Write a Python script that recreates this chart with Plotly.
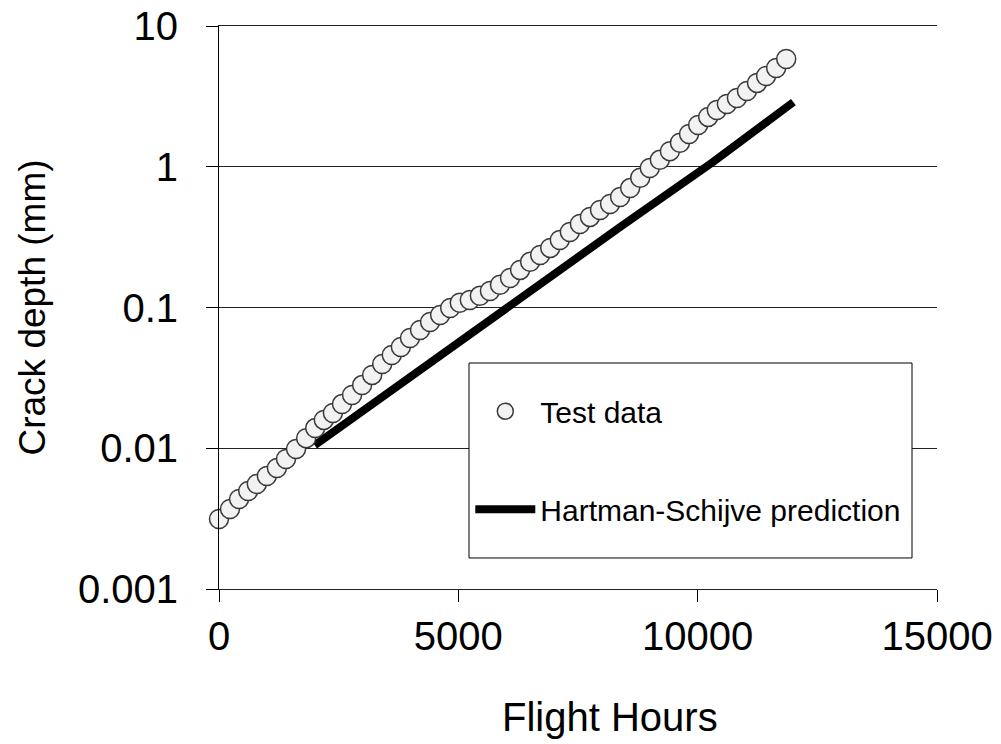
import plotly.graph_objects as go

# Test data (flight hours, crack depth in mm)
hours_test = [0, 230, 420, 610, 790, 1000, 1210, 1400, 1610, 1820,
              2010, 2190, 2380, 2570, 2780, 2990, 3200, 3410, 3610, 3800,
              3990, 4200, 4410, 4620, 4830, 5030, 5240, 5450, 5660, 5870,
              6080, 6290, 6500, 6710, 6920, 7120, 7330, 7540, 7750, 7960,
              8170, 8380, 8590, 8800, 9000, 9210, 9420, 9630, 9820, 10010,
              10220, 10400, 10610, 10820, 11030, 11240, 11430, 11640, 11850]
depth_test = [0.00314, 0.00370, 0.00436, 0.00497, 0.00557, 0.00635, 0.00724, 0.00839, 0.00988, 0.0118,
              0.0139, 0.0159, 0.0178, 0.0206, 0.0239, 0.0281, 0.0332, 0.0397, 0.0460, 0.0524,
              0.0607, 0.0692, 0.0789, 0.0885, 0.0992, 0.108, 0.113, 0.121, 0.131, 0.145,
              0.162, 0.185, 0.211, 0.236, 0.265, 0.302, 0.344, 0.392, 0.440, 0.493,
              0.544, 0.610, 0.705, 0.835, 0.980, 1.12, 1.29, 1.48, 1.71, 1.98,
              2.26, 2.53, 2.79, 3.08, 3.45, 3.94, 4.41, 5.03, 5.83]

# Hartman-Schijve prediction
hours_pred = [2000, 2590, 4830, 6920, 8380, 10320, 12000]
depth_pred = [0.0105, 0.0146, 0.0524, 0.165, 0.373, 1.08, 2.88]

# Axis ticks
x_tickvals = [0, 5000, 10000, 15000]
x_ticktext = ["0", "5000", "10000", "15000"]
y_tickvals = [0.001, 0.01, 0.1, 1, 10]
y_ticktext = ["0.001", "0.01", "0.1", "1", "10"]

FONT = "Liberation Sans, Arial, sans-serif"

fig = go.Figure()
fig.add_trace(go.Scatter(
    x=hours_pred, y=depth_pred, mode="lines", name="Hartman-Schijve prediction",
    line=dict(color="black", width=8), legendgroup="b", legendrank=2,
))
fig.add_trace(go.Scatter(
    x=hours_test, y=depth_test, mode="markers", name="Test data",
    marker=dict(size=19, color="#f2f2f2", line=dict(color="#3a3a3a", width=1.5)),
    legendgroup="a", legendrank=1, cliponaxis=False,
))

fig.update_layout(
    width=1001, height=744,
    margin=dict(l=219, r=64, t=26, b=155),
    paper_bgcolor="white", plot_bgcolor="white",
    font=dict(family=FONT, color="black"),
    showlegend=True,
    legend=dict(
        x=0.350, xanchor="left", y=0.362, yanchor="top",
        bgcolor="rgba(0,0,0,0)", borderwidth=0,
        font=dict(size=30, family=FONT, color="black"),
        tracegroupgap=56, itemwidth=60,
    ),
    shapes=[dict(type="rect", xref="paper", yref="paper",
                 x0=0.3482, x1=0.9652, y0=0.0551, y1=0.4014,
                 line=dict(color="black", width=1), fillcolor="white", layer="above")],
    annotations=[dict(text="Flight Hours", xref="paper", yref="paper",
                      x=0.544, y=-0.228, xanchor="center", yanchor="middle",
                      showarrow=False, font=dict(size=40, family=FONT, color="black"))],
)

fig.update_xaxes(
    range=[0, 15000], tickvals=x_tickvals, ticktext=x_ticktext,
    ticks="outside", ticklen=12, tickcolor="black",
    showline=True, linecolor="#222222", linewidth=1.2, mirror=True,
    showgrid=False, zeroline=False,
    tickfont=dict(size=40, family=FONT), automargin=False,
)
fig.update_yaxes(
    type="log", range=[-3, 1], tickvals=y_tickvals, ticktext=y_ticktext,
    ticks="outside", ticklen=12, tickcolor="black",
    showline=True, linecolor="black", linewidth=1,
    showgrid=True, gridcolor="#222222", gridwidth=1.2, zeroline=False,
    tickfont=dict(size=40, family=FONT), ticklabelstandoff=20, automargin=False,
    title=dict(text="Crack depth (mm)", font=dict(size=37, family=FONT), standoff=20),
)

fig.write_html("out.html", config={"displayModeBar": False},
               post_script="document.body.style.margin='0';")
